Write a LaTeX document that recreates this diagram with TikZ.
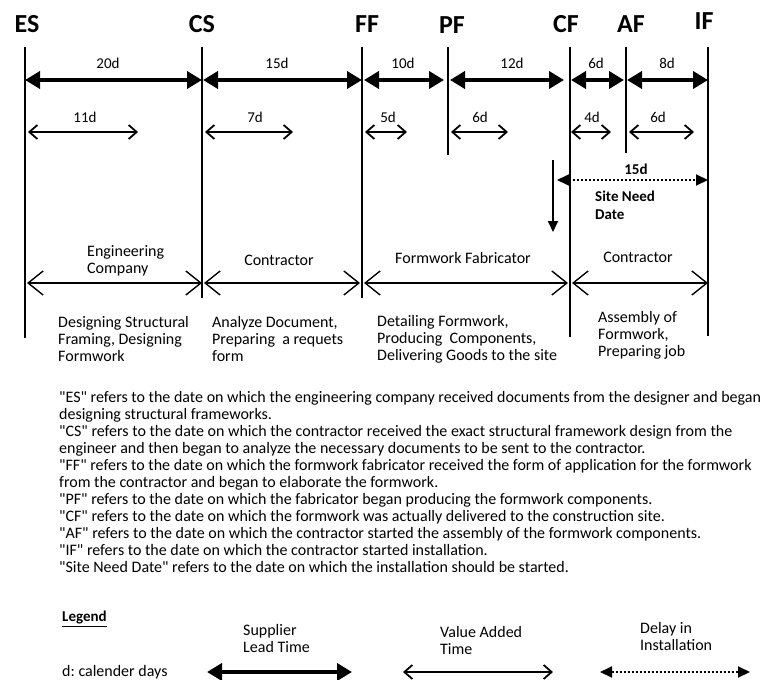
\documentclass[tikz,border=0pt]{standalone}
\usepackage{fontspec}
\setmainfont{Carlito}[Ligatures=TeXOff]
\usetikzlibrary{arrows.meta}
\frenchspacing

\begin{document}
\begin{tikzpicture}[x=1pt,y=-1pt,
  milestone/.style={font=\fontsize{26}{30}\selectfont\bfseries, anchor=base, inner sep=0pt},
  mline/.style={line width=1.6pt},
  lead/.style={line width=4pt, {Triangle[length=15pt,width=17pt]}-{Triangle[length=15pt,width=17pt]}},
  value/.style={line width=1.8pt, {Straight Barb[length=8pt,width=14pt]}-{Straight Barb[length=8pt,width=14pt]}},
  party/.style={line width=1.4pt, {Straight Barb[length=15pt,width=24pt]}-{Straight Barb[length=15pt,width=24pt]}},
  delay/.style={line width=2pt, dash pattern=on 2pt off 2pt, {Triangle[length=12pt,width=11pt]}-{Triangle[length=12pt,width=11pt]}},
  days/.style={font=\fontsize{15}{17}\selectfont, inner sep=0pt},
  txt/.style={font=\fontsize{16}{17}\selectfont, inner sep=0pt, align=left, anchor=west},
  ctxt/.style={font=\fontsize{16}{17}\selectfont, inner sep=0pt},
  para/.style={font=\fontsize{16}{17}\selectfont, inner sep=0pt, align=left, anchor=west}
]
\useasboundingbox (0,0) rectangle (764,680);

% milestone labels
\node[milestone] (ESl) at (27,32) {ES};
\node[milestone] (CSl) at (202,32) {CS};
\node[milestone] (FFl) at (367,32) {FF};
\node[milestone] (PFl) at (452,33) {PF};
\node[milestone] (CFl) at (566,32) {CF};
\node[milestone] (AFl) at (631,32) {AF};
\node[milestone] (IFl) at (704,30) {IF};

% milestone lines (top and bottom ends)
\coordinate (ES) at (25,47);   \coordinate (ESb) at (25,338);
\coordinate (CS) at (202,47);  \coordinate (CSb) at (202,298);
\coordinate (FF) at (362,47);  \coordinate (FFb) at (362,298);
\coordinate (PF) at (448,47);  \coordinate (PFb) at (448,155);
\coordinate (CF) at (570,47);  \coordinate (CFb) at (570,337);
\coordinate (AF) at (626,47);  \coordinate (AFb) at (626,153);
\coordinate (IF) at (708,47);  \coordinate (IFb) at (708,336);
\foreach \m in {ES,CS,FF,PF,CF,AF,IF} \draw[mline] (\m) -- (\m b);

% rows
\coordinate (r1) at (0,80);
\coordinate (r2) at (0,132);
\coordinate (r3) at (0,283);

% supplier lead times
\draw[lead] (ES |- r1) -- (CS |- r1);
\draw[lead, shorten <=1pt] (CS |- r1) -- (FF |- r1);
\draw[lead, shorten <=2pt, shorten >=4pt] (FF |- r1) -- (PF |- r1);
\draw[lead, shorten <=2pt, shorten >=6pt] (PF |- r1) -- (CF |- r1);
\draw[lead, shorten <=1pt, shorten >=2pt] (CF |- r1) -- (AF |- r1);
\draw[lead, shorten <=1pt] (AF |- r1) -- (IF |- r1);
\node[days] (t1) at (108,63) {20d};
\node[days] (t2) at (277,63) {15d};
\node[days] (t3) at (403,63) {10d};
\node[days] (t4) at (512,63) {12d};
\node[days] (t5) at (596,63) {6d};
\node[days] (t6) at (667,63) {8d};

% value added times
\coordinate (v1a) at (28,132);  \coordinate (v1b) at (138,132);
\coordinate (v2a) at (205,132); \coordinate (v2b) at (293,132);
\coordinate (v3a) at (365,132); \coordinate (v3b) at (407,132);
\coordinate (v4a) at (451,132); \coordinate (v4b) at (508,132);
\coordinate (v5a) at (571,132); \coordinate (v5b) at (611,132);
\coordinate (v6a) at (629,132); \coordinate (v6b) at (694,132);
\foreach \i in {1,...,6} \draw[value] (v\i a) -- (v\i b);
\node[days] (u1) at (85,117) {11d};
\node[days] (u2) at (255,117) {7d};
\node[days] (u3) at (388,117) {5d};
\node[days] (u4) at (480,117) {6d};
\node[days] (u5) at (592,117) {4d};
\node[days] (u6) at (658,117) {6d};

% site need date
\coordinate (sndTop) at (553,160);
\coordinate (sndTip) at (553,232);
\draw[line width=1.8pt, -{Triangle[length=11pt,width=10pt]}] (sndTop) -- (sndTip);
\coordinate (d1) at (557,180);
\draw[delay] (d1) -- (IF |- d1);
\node[days, font=\fontsize{15}{17}\selectfont\bfseries] (dl) at (636,169) {15d};
\node[txt, font=\fontsize{15}{18}\selectfont\bfseries] (snd) at (595,205) {Site Need\\Date};

% parties
\draw[party, shorten <=2pt] (ES |- r3) -- (CS |- r3);
\draw[party, shorten <=2pt, shorten >=2pt] (CS |- r3) -- (FF |- r3);
\draw[party, shorten <=2pt, shorten >=2pt] (FF |- r3) -- (CF |- r3);
\draw[party, shorten <=2pt] (CF |- r3) -- (IF |- r3);
\node[txt] (p1) at (87,260.5) {Engineering\\Company};
\node[ctxt] (p2) at (279,260) {Contractor};
\node[ctxt] (p3) at (463,258) {Formwork Fabricator};
\node[ctxt] (p4) at (638,257) {Contractor};

% activities
\node[txt] (a1) at (58,339) {Designing Structural\\Framing, Designing\\Formwork};
\node[txt] (a2) at (212,339) {Analyze Document,\\Preparing\ \ a requets\\form};
\node[txt] (a3) at (377,339) {Detailing Formwork,\\Producing\ \ Components,\\Delivering Goods to the site};
\node[txt] (a4) at (598,335) {Assembly of\\Formwork,\\Preparing job};

% definitions
\node[para] (defs) at (59,482) {%
"ES" refers to the date on which the engineering company received documents from the designer and began\\
designing structural frameworks.\\
"CS" refers to the date on which the contractor received the exact structural framework design from the\\
engineer and then began to analyze the necessary documents to be sent to the contractor.\\
"FF" refers to the date on which the formwork fabricator received the form of application for the formwork\\
from the contractor and began to elaborate the formwork.\\
"PF" refers to the date on which the fabricator began producing the formwork components.\\
"CF" refers to the date on which the formwork was actually delivered to the construction site.\\
"AF" refers to the date on which the contractor started the assembly of the formwork components.\\
"IF" refers to the date on which the contractor started installation.\\
"Site Need Date" refers to the date on which the installation should be started.};

% legend
\node[txt, font=\fontsize{15}{17}\selectfont\bfseries] (lg) at (62,619) {\underline{Legend}};
\node[txt] (lgd) at (62,672) {d: calender days};
\node[txt] (lg1) at (243,638) {Supplier\\Lead Time};
\node[txt] (lg2) at (440,640) {Value Added\\Time};
\node[txt] (lg3) at (640,636) {Delay in\\Installation};
\coordinate (la1) at (207,672); \coordinate (lb1) at (352,672);
\coordinate (la2) at (403,672); \coordinate (lb2) at (553,672);
\coordinate (la3) at (600,672); \coordinate (lb3) at (750,672);
\draw[lead] (la1) -- (lb1);
\draw[value] (la2) -- (lb2);
\draw[delay] (la3) -- (lb3);
\end{tikzpicture}
\end{document}
